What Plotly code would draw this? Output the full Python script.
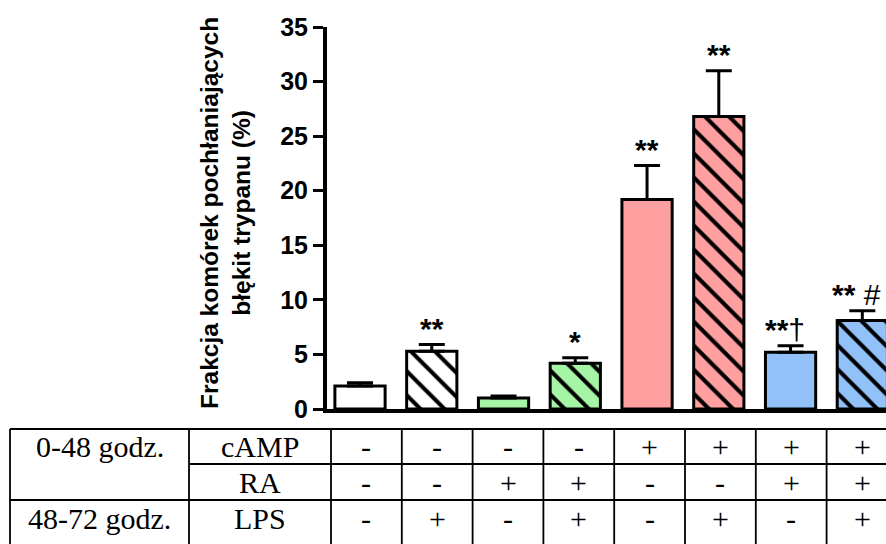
import plotly.graph_objects as go

# ---- data ----
groups = ["1", "2", "3", "4", "5", "6", "7", "8"]
values = [2.1, 5.3, 1.0, 4.2, 19.2, 26.8, 5.2, 8.1]
errors = [0.3, 0.6, 0.2, 0.5, 3.1, 4.2, 0.6, 0.9]
hatched = [False, True, False, True, False, True, False, True]
bar_colors = ["#ffffff", "#ffffff", "#a6f5a6", "#a6f5a6", "#ff9f9f", "#ff9f9f", "#92c1f9", "#92c1f9"]
sig_stars = ["", "**", "", "*", "**", "**", "**", "**"]
sig_extra = ["", "", "", "", "", "", "†", " #"]
sig_shift = [0, 0, 0, 0, 0, 0, -6, -6]
y_ticks = [0, 5, 10, 15, 20, 25, 30, 35]
y_title = "Frakcja komórek pochłaniających<br>błękit trypanu (%)"
row_period = ["0-48 godz.", "", "48-72 godz."]
row_agent = ["cAMP", "RA", "LPS"]
camp = ["-", "-", "-", "-", "+", "+", "+", "+"]
ra = ["-", "-", "+", "+", "-", "-", "+", "+"]
lps = ["-", "+", "-", "+", "-", "+", "-", "+"]

W, H = 886, 544
# plot area in pixels
PL, PR, PT, PB = 327, 886, 27, 409

fig = go.Figure()
for i, (v, e, h, c) in enumerate(zip(values, errors, hatched, bar_colors)):
    fig.add_trace(go.Bar(
        x=[i], y=[v], width=0.70,
        marker=dict(
            color=c,
            line=dict(color="black", width=3),
            pattern=dict(shape="\\" if h else "", fgcolor="black", bgcolor=c,
                         size=17, solidity=0.24, fillmode="replace"),
        ),
        error_y=dict(type="data", array=[e], arrayminus=[0], symmetric=False,
                     color="black", thickness=3, width=13),
        showlegend=False, hoverinfo="skip",
    ))

# significance labels
for i, (v, e, st, ex, sh) in enumerate(zip(values, errors, sig_stars, sig_extra, sig_shift)):
    if st:
        fig.add_annotation(x=i, y=v + e, xref="x", yref="y", text="<b>" + st + "</b>" + ex,
                           showarrow=False, yanchor="bottom", xanchor="center", yshift=-2, xshift=sh,
                           font=dict(family="Arial, Liberation Sans", size=30, color="black"))

# y axis title
fig.add_annotation(x=225 / W, y=(H - 213) / H, xref="paper", yref="paper", text=y_title,
                   textangle=-90, showarrow=False, xanchor="center", yanchor="middle",
                   font=dict(family="Arial, Liberation Sans", size=24.5, color="black", weight="bold"))

# ---- table ----
def px(v):
    return v / W

def py(v):
    return (H - v) / H

t_left, t_c1, t_c2 = 10, 189, 331
col_w = 70.8
t_top, t_r1, t_r2, t_bot = 429, 464, 500, 544
row_centers = [446.5, 482, 518]
line = dict(color="black", width=1.8)

def seg(x0, y0, x1, y1):
    fig.add_shape(type="line", xref="paper", yref="paper", x0=px(x0), y0=py(y0),
                  x1=px(x1), y1=py(y1), line=line)

seg(t_left, t_top, W, t_top)
seg(t_c1, t_r1, W, t_r1)
seg(t_left, t_r2, W, t_r2)
seg(t_left, t_top, t_left, t_bot)
seg(t_c1, t_top, t_c1, t_bot)
for i in range(len(groups)):
    seg(t_c2 + i * col_w, t_top, t_c2 + i * col_w, t_bot)

tfont = dict(family="Liberation Serif, Times New Roman", size=30, color="black")

def cell(xc, yc, s):
    fig.add_annotation(x=px(xc), y=py(yc), xref="paper", yref="paper", text=s, showarrow=False,
                       font=tfont, xanchor="center", yanchor="middle")

for r in range(3):
    if row_period[r]:
        cell((t_left + t_c1) / 2, row_centers[r], row_period[r])
    cell((t_c1 + t_c2) / 2, row_centers[r], row_agent[r])
for r, row in enumerate([camp, ra, lps]):
    for i, s in enumerate(row):
        cell(t_c2 + (i + 0.5) * col_w, row_centers[r], s)

fig.update_layout(
    width=W, height=H, margin=dict(l=0, r=0, t=0, b=0, autoexpand=False),
    paper_bgcolor="white", plot_bgcolor="white", barmode="overlay",
    xaxis=dict(domain=[PL / W, PR / W], range=[-0.46, 7.33], showline=True, linewidth=4,
               linecolor="black", showticklabels=False, ticks="", showgrid=False, zeroline=False,
               fixedrange=True, automargin=False),
    yaxis=dict(domain=[(H - PB) / H, (H - PT) / H], range=[0, 35], tickvals=y_ticks,
               showline=True, linewidth=4, linecolor="black", ticks="outside", ticklen=10,
               tickwidth=3, tickcolor="black", showgrid=False, zeroline=False,
               tickfont=dict(family="Arial, Liberation Sans", size=25, color="black", weight="bold"),
               fixedrange=True, automargin=False),
    font=dict(family="Arial, Liberation Sans"),
)

fig.write_html("out.html", config={"displayModeBar": False},
               post_script="document.body.style.margin='0px';document.body.style.overflow='hidden';")
